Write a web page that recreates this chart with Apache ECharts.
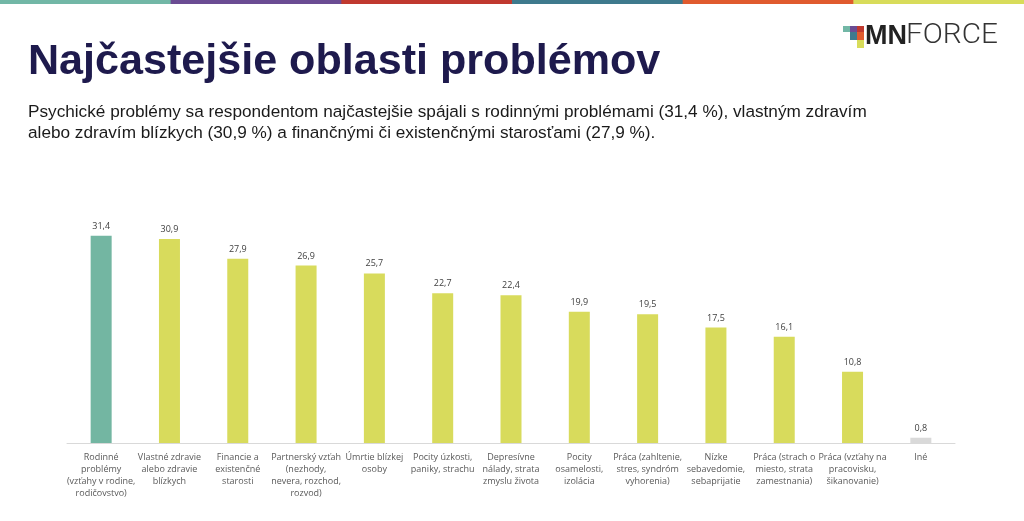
<!DOCTYPE html>
<html><head><meta charset="utf-8">
<script src="https://cdn.jsdelivr.net/npm/echarts@6/dist/echarts.min.js"></script>
<style>html,body{margin:0;padding:0;background:#fff}#c{width:1024px;height:521px}</style>
</head><body><div id="c"></div>
<script>
const categories = [
  "Rodinné\nproblémy\n(vzťahy v rodine,\nrodičovstvo)",
  "Vlastné zdravie\nalebo zdravie\nblízkych",
  "Financie a\nexistenčné\nstarosti",
  "Partnerský vzťah\n(nezhody,\nnevera, rozchod,\nrozvod)",
  "Úmrtie blízkej\nosoby",
  "Pocity úzkosti,\npaniky, strachu",
  "Depresívne\nnálady, strata\nzmyslu života",
  "Pocity\nosamelosti,\nizolácia",
  "Práca (zahltenie,\nstres, syndróm\nvyhorenia)",
  "Nízke\nsebavedomie,\nsebaprijatie",
  "Práca (strach o\nmiesto, strata\nzamestnania)",
  "Práca (vzťahy na\npracovisku,\nšikanovanie)",
  "Iné"
];
const values = [31.4, 30.9, 27.9, 26.9, 25.7, 22.7, 22.4, 19.9, 19.5, 17.5, 16.1, 10.8, 0.8];
const barColors = ["#73b6a2","#d8db5c","#d8db5c","#d8db5c","#d8db5c","#d8db5c","#d8db5c","#d8db5c","#d8db5c","#d8db5c","#d8db5c","#d8db5c","#d9d9d9"];
const stripeColors = ["#72b7a6","#6b4c93","#c0392f","#3e7a8d","#e05b2e","#d8dc5a"];
const titleText = 'Najčastejšie oblasti problémov';
const subText = 'Psychické problémy sa respondentom najčastejšie spájali s rodinnými problémami (31,4 %), vlastným zdravím\nalebo zdravím blízkych (30,9 %) a finančnými či existenčnými starosťami (27,9 %).';

const chart = echarts.init(document.getElementById('c'));
const stripe = stripeColors.map((c,i)=>({type:'rect',shape:{x:i*1024/6,y:0,width:1024/6+1,height:4},style:{fill:c},silent:true}));
const logo = [
  {type:'rect',shape:{x:843,y:26,width:7,height:6},style:{fill:'#72b7a6'}},
  {type:'rect',shape:{x:850,y:26,width:7,height:6},style:{fill:'#6b4c93'}},
  {type:'rect',shape:{x:857,y:26,width:7,height:6},style:{fill:'#c0392f'}},
  {type:'rect',shape:{x:850,y:32,width:7,height:8},style:{fill:'#3e7a8d'}},
  {type:'rect',shape:{x:857,y:32,width:7,height:8},style:{fill:'#e05b2e'}},
  {type:'rect',shape:{x:857,y:40,width:7,height:8},style:{fill:'#d8dc5a'}},
  {type:'text',x:865,y:23,style:{text:'MN',font:'bold 27px "Liberation Sans"',fill:'#222'}},
  {type:'text',x:906,y:23,scaleX:1.1,style:{text:'FORCE',font:'300 27px Roboto',fill:'#333'}}
];

chart.setOption({
  animation:false,
  graphic:[...stripe, ...logo,
    {type:'text',x:28,y:41,scaleX:1.026,style:{text:titleText,font:'bold 42px "Liberation Sans"',fill:'#1e1a4d'}},
    {type:'text',x:28,y:102,style:{text:subText,font:'17.2px "Liberation Sans"',lineHeight:21,fill:'#1a1a1a'}}
  ],
  grid:{left:67,right:69,top:212,bottom:78},
  xAxis:{type:'category',data:categories,
    axisLine:{lineStyle:{color:'#d9d9d9',width:1}},axisTick:{show:false},
    axisLabel:{interval:0,color:'#595959',fontSize:9,fontFamily:'"Open Sans"',lineHeight:12,margin:8}},
  yAxis:{type:'value',min:0,max:35,show:false,splitLine:{show:false}},
  series:[{type:'bar',data:values.map((v,i)=>({value:v,itemStyle:{color:barColors[i]}})),
    barWidth:21,
    label:{show:true,position:'top',distance:5,color:'#404040',fontSize:9,fontFamily:'"Open Sans"',
      formatter:p=>String(p.value).replace('.',',')}}]
});
</script></body></html>
